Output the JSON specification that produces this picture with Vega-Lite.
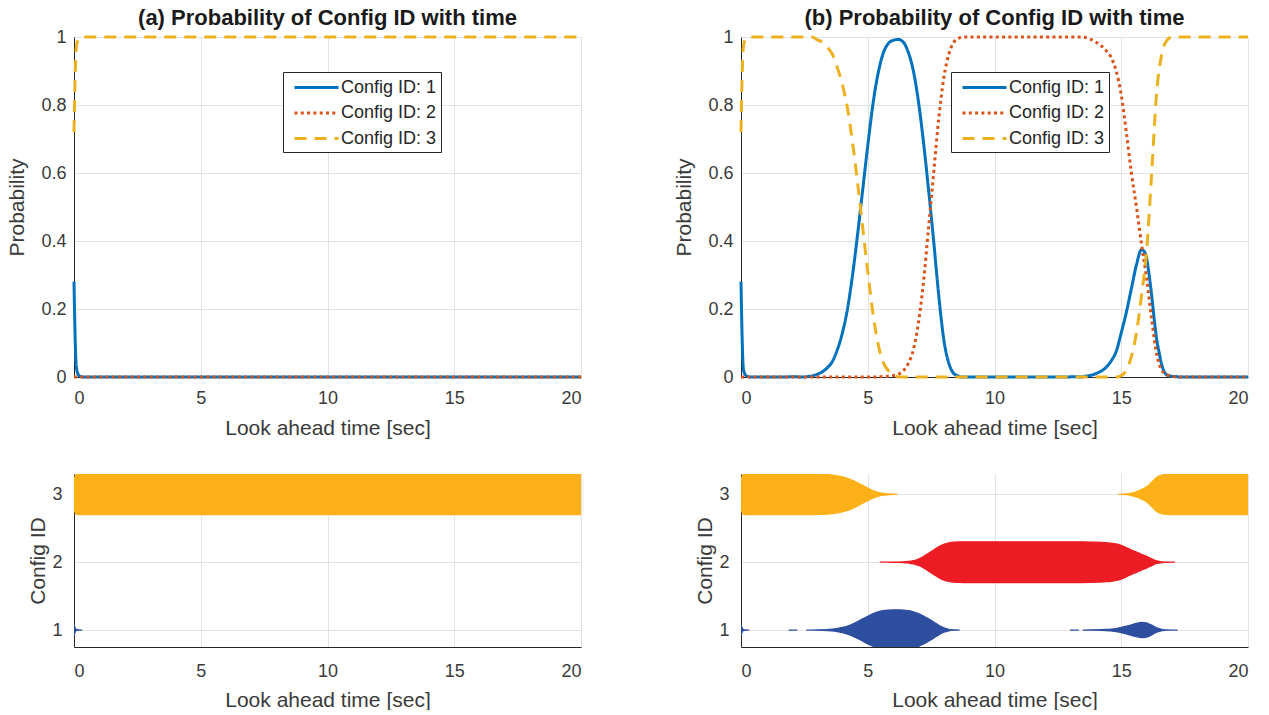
{
  "$schema": "https://vega.github.io/schema/vega-lite/v6.json",
  "background": "white",
  "padding": {"left": 6, "top": 7, "right": 0, "bottom": 0},
  "config": {
    "view": {"stroke": null},
    "font": "Liberation Sans",
    "axis": {
      "domainColor": "#262626", "domainWidth": 1,
      "gridColor": "#e3e3e3", "gridWidth": 1,
      "labelFont": "Liberation Sans", "labelFontSize": 18, "labelColor": "#3a3a3a",
      "titleFont": "Liberation Sans", "titleFontSize": 21, "titleFontWeight": "normal", "titleColor": "#3a3a3a",
      "tickColor": "#262626", "tickSize": 0
    },
    "title": {"font": "Liberation Sans", "fontSize": 22, "fontWeight": "bold", "color": "#1a1a1a", "offset": -2}
  },
  "datasets": {
    "pa": [
      {"t":0,"cfg":1,"p":0.28},{"t":0.05,"cfg":1,"p":0.1},{"t":0.1,"cfg":1,"p":0.025},{"t":0.2,"cfg":1,"p":0.004},{"t":0.3,"cfg":1,"p":0.001},{"t":0.35,"cfg":1,"p":0},{"t":20,"cfg":1,"p":0},
      {"t":0,"cfg":2,"p":0},{"t":20,"cfg":2,"p":0},
      {"t":0,"cfg":3,"p":0.72},{"t":0.05,"cfg":3,"p":0.9},{"t":0.1,"cfg":3,"p":0.975},{"t":0.2,"cfg":3,"p":0.996},{"t":0.3,"cfg":3,"p":1},{"t":20,"cfg":3,"p":1}
    ],
    "pb": [
      {"t":0,"cfg":1,"p":0.28},{"t":0.05,"cfg":1,"p":0.1},{"t":0.1,"cfg":1,"p":0.02},{"t":0.2,"cfg":1,"p":0.004},{"t":0.3,"cfg":1,"p":0.001},{"t":0.35,"cfg":1,"p":0},
      {"t":1.85,"cfg":1,"p":0},{"t":1.9,"cfg":1,"p":0.001},{"t":2.2,"cfg":1,"p":0.001},{"t":2.25,"cfg":1,"p":0},
      {"t":2.55,"cfg":1,"p":0},{"t":2.6,"cfg":1,"p":0.001},{"t":2.8,"cfg":1,"p":0.003},{"t":3.0,"cfg":1,"p":0.008},{"t":3.2,"cfg":1,"p":0.015},{"t":3.4,"cfg":1,"p":0.027},{"t":3.6,"cfg":1,"p":0.045},{"t":3.8,"cfg":1,"p":0.08},{"t":4.0,"cfg":1,"p":0.13},{"t":4.2,"cfg":1,"p":0.2},{"t":4.4,"cfg":1,"p":0.3},{"t":4.6,"cfg":1,"p":0.42},{"t":4.8,"cfg":1,"p":0.55},{"t":5.0,"cfg":1,"p":0.68},{"t":5.2,"cfg":1,"p":0.8},{"t":5.4,"cfg":1,"p":0.89},{"t":5.6,"cfg":1,"p":0.95},{"t":5.8,"cfg":1,"p":0.98},{"t":6.0,"cfg":1,"p":0.99},{"t":6.2,"cfg":1,"p":0.993},{"t":6.4,"cfg":1,"p":0.985},{"t":6.6,"cfg":1,"p":0.955},{"t":6.8,"cfg":1,"p":0.9},{"t":7.0,"cfg":1,"p":0.81},{"t":7.2,"cfg":1,"p":0.69},{"t":7.4,"cfg":1,"p":0.55},{"t":7.6,"cfg":1,"p":0.4},{"t":7.8,"cfg":1,"p":0.24},{"t":8.0,"cfg":1,"p":0.11},{"t":8.2,"cfg":1,"p":0.04},{"t":8.4,"cfg":1,"p":0.01},{"t":8.6,"cfg":1,"p":0.002},{"t":8.65,"cfg":1,"p":0},
      {"t":12.95,"cfg":1,"p":0},{"t":13.0,"cfg":1,"p":0.001},{"t":13.3,"cfg":1,"p":0.001},{"t":13.35,"cfg":1,"p":0},{"t":13.45,"cfg":1,"p":0},{"t":13.5,"cfg":1,"p":0.001},{"t":13.8,"cfg":1,"p":0.005},{"t":14.0,"cfg":1,"p":0.01},{"t":14.2,"cfg":1,"p":0.017},{"t":14.4,"cfg":1,"p":0.028},{"t":14.6,"cfg":1,"p":0.047},{"t":14.8,"cfg":1,"p":0.075},{"t":15.0,"cfg":1,"p":0.13},{"t":15.2,"cfg":1,"p":0.19},{"t":15.4,"cfg":1,"p":0.26},{"t":15.6,"cfg":1,"p":0.33},{"t":15.8,"cfg":1,"p":0.375},{"t":15.9,"cfg":1,"p":0.37},{"t":16.0,"cfg":1,"p":0.35},{"t":16.1,"cfg":1,"p":0.3},{"t":16.2,"cfg":1,"p":0.24},{"t":16.3,"cfg":1,"p":0.17},{"t":16.4,"cfg":1,"p":0.11},{"t":16.5,"cfg":1,"p":0.07},{"t":16.6,"cfg":1,"p":0.035},{"t":16.7,"cfg":1,"p":0.015},{"t":16.8,"cfg":1,"p":0.006},{"t":17.0,"cfg":1,"p":0.002},{"t":17.2,"cfg":1,"p":0.001},{"t":17.25,"cfg":1,"p":0},{"t":20,"cfg":1,"p":0},
      {"t":0,"cfg":2,"p":0},{"t":5.45,"cfg":2,"p":0},{"t":5.5,"cfg":2,"p":0.001},{"t":5.8,"cfg":2,"p":0.002},{"t":6.0,"cfg":2,"p":0.004},{"t":6.2,"cfg":2,"p":0.008},{"t":6.4,"cfg":2,"p":0.018},{"t":6.6,"cfg":2,"p":0.04},{"t":6.8,"cfg":2,"p":0.08},{"t":7.0,"cfg":2,"p":0.16},{"t":7.2,"cfg":2,"p":0.28},{"t":7.4,"cfg":2,"p":0.44},{"t":7.6,"cfg":2,"p":0.6},{"t":7.8,"cfg":2,"p":0.76},{"t":8.0,"cfg":2,"p":0.88},{"t":8.2,"cfg":2,"p":0.95},{"t":8.4,"cfg":2,"p":0.985},{"t":8.6,"cfg":2,"p":0.997},{"t":8.8,"cfg":2,"p":1},{"t":13.4,"cfg":2,"p":1},{"t":13.8,"cfg":2,"p":0.993},{"t":14.0,"cfg":2,"p":0.985},{"t":14.2,"cfg":2,"p":0.975},{"t":14.4,"cfg":2,"p":0.96},{"t":14.6,"cfg":2,"p":0.94},{"t":14.8,"cfg":2,"p":0.9},{"t":15.0,"cfg":2,"p":0.83},{"t":15.2,"cfg":2,"p":0.72},{"t":15.4,"cfg":2,"p":0.6},{"t":15.6,"cfg":2,"p":0.5},{"t":15.8,"cfg":2,"p":0.39},{"t":16.0,"cfg":2,"p":0.29},{"t":16.2,"cfg":2,"p":0.17},{"t":16.4,"cfg":2,"p":0.065},{"t":16.6,"cfg":2,"p":0.02},{"t":16.8,"cfg":2,"p":0.007},{"t":17.0,"cfg":2,"p":0.002},{"t":17.1,"cfg":2,"p":0.001},{"t":17.15,"cfg":2,"p":0},{"t":20,"cfg":2,"p":0},
      {"t":0,"cfg":3,"p":0.72},{"t":0.05,"cfg":3,"p":0.9},{"t":0.1,"cfg":3,"p":0.975},{"t":0.2,"cfg":3,"p":0.996},{"t":0.3,"cfg":3,"p":1},{"t":2.8,"cfg":3,"p":1},{"t":3.0,"cfg":3,"p":0.992},{"t":3.2,"cfg":3,"p":0.985},{"t":3.4,"cfg":3,"p":0.97},{"t":3.6,"cfg":3,"p":0.95},{"t":3.8,"cfg":3,"p":0.91},{"t":4.0,"cfg":3,"p":0.86},{"t":4.2,"cfg":3,"p":0.79},{"t":4.4,"cfg":3,"p":0.69},{"t":4.6,"cfg":3,"p":0.57},{"t":4.8,"cfg":3,"p":0.44},{"t":5.0,"cfg":3,"p":0.31},{"t":5.2,"cfg":3,"p":0.19},{"t":5.4,"cfg":3,"p":0.1},{"t":5.6,"cfg":3,"p":0.045},{"t":5.8,"cfg":3,"p":0.02},{"t":6.0,"cfg":3,"p":0.008},{"t":6.15,"cfg":3,"p":0.002},{"t":6.2,"cfg":3,"p":0},
      {"t":14.85,"cfg":3,"p":0},{"t":14.9,"cfg":3,"p":0.001},{"t":15.0,"cfg":3,"p":0.004},{"t":15.2,"cfg":3,"p":0.02},{"t":15.4,"cfg":3,"p":0.06},{"t":15.6,"cfg":3,"p":0.13},{"t":15.8,"cfg":3,"p":0.24},{"t":16.0,"cfg":3,"p":0.37},{"t":16.2,"cfg":3,"p":0.6},{"t":16.4,"cfg":3,"p":0.84},{"t":16.6,"cfg":3,"p":0.95},{"t":16.8,"cfg":3,"p":0.99},{"t":17.0,"cfg":3,"p":1},{"t":20,"cfg":3,"p":1}
    ]
  },
  "columns": 2,
  "align": "each",
  "spacing": {"row": 36, "column": 86},
  "resolve": {
    "scale": {"color": "independent", "strokeDash": "independent", "stroke": "independent", "x": "independent", "y": "independent"},
    "legend": {"color": "independent", "strokeDash": "independent"}
  },
  "concat": [
    {
      "data": {"name": "pa"},
      "width": 507, "height": 340,
      "title": "(a) Probability of Config ID with time",
      "mark": {"type": "line", "strokeWidth": 3, "interpolate": "monotone"},
      "encoding": {
        "x": {"field": "t", "type": "quantitative", "scale": {"domain": [0, 20], "nice": false},
              "axis": {"title": "Look ahead time [sec]", "values": [0, 5, 10, 15, 20], "labelPadding": 12, "titlePadding": 10}},
        "y": {"field": "p", "type": "quantitative", "scale": {"domain": [0, 1], "nice": false},
              "axis": {"title": "Probability", "values": [0, 0.2, 0.4, 0.6, 0.8, 1], "format": "~g", "labelPadding": 8, "titlePadding": 13}},
        "color": {"field": "cfg", "type": "nominal", "scale": {"domain": [1, 2, 3], "range": ["#0072BD", "#D95319", "#EDB120"]},
                  "legend": {"title": null, "orient": "none", "legendX": 209, "legendY": 35, "symbolType": "M-0.4,0H4", "symbolSize": 400, "symbolStrokeWidth": 3,
                             "labelExpr": "'Config ID: ' + datum.label", "labelFont": "Liberation Sans", "labelFontSize": 18, "labelColor": "#262626", "labelOffset": 31,
                             "strokeColor": "#262626", "fillColor": "white", "padding": 4, "rowPadding": 4.5}},
        "strokeDash": {"field": "cfg", "type": "nominal", "scale": {"domain": [1, 2, 3], "range": [[1, 0], [3, 3.3], [12, 8]]}}
      }
    },
    {
      "data": {"name": "pb"},
      "width": 507, "height": 340,
      "title": "(b) Probability of Config ID with time",
      "mark": {"type": "line", "strokeWidth": 3, "interpolate": "monotone"},
      "encoding": {
        "x": {"field": "t", "type": "quantitative", "scale": {"domain": [0, 20], "nice": false},
              "axis": {"title": "Look ahead time [sec]", "values": [0, 5, 10, 15, 20], "labelPadding": 12, "titlePadding": 10}},
        "y": {"field": "p", "type": "quantitative", "scale": {"domain": [0, 1], "nice": false},
              "axis": {"title": "Probability", "values": [0, 0.2, 0.4, 0.6, 0.8, 1], "format": "~g", "labelPadding": 8, "titlePadding": 13}},
        "color": {"field": "cfg", "type": "nominal", "scale": {"domain": [1, 2, 3], "range": ["#0072BD", "#D95319", "#EDB120"]},
                  "legend": {"title": null, "orient": "none", "legendX": 210, "legendY": 35, "symbolType": "M-0.4,0H4", "symbolSize": 400, "symbolStrokeWidth": 3,
                             "labelExpr": "'Config ID: ' + datum.label", "labelFont": "Liberation Sans", "labelFontSize": 18, "labelColor": "#262626", "labelOffset": 31,
                             "strokeColor": "#262626", "fillColor": "white", "padding": 4, "rowPadding": 4.5}},
        "strokeDash": {"field": "cfg", "type": "nominal", "scale": {"domain": [1, 2, 3], "range": [[1, 0], [3, 3.3], [12, 8]]}}
      }
    },
    {
      "data": {"name": "pa"},
      "width": 507, "height": 173,
      "transform": [
        {"calculate": "datum.p > 0 ? datum.cfg - 0.3 * datum.p : null", "as": "lo"},
        {"calculate": "datum.p > 0 ? datum.cfg + 0.3 * datum.p : null", "as": "hi"}
      ],
      "mark": {"type": "area", "interpolate": "monotone", "clip": true, "strokeWidth": 1.2, "invalid": "break-paths-show-domains"},
      "encoding": {
        "x": {"field": "t", "type": "quantitative", "scale": {"domain": [0, 20], "nice": false},
              "axis": {"title": "Look ahead time [sec]", "values": [0, 5, 10, 15, 20], "labelPadding": 15, "titlePadding": 9}},
        "y": {"field": "lo", "type": "quantitative", "stack": null, "scale": {"domain": [0.75, 3.3], "nice": false, "zero": false},
              "axis": {"title": "Config ID", "values": [1, 2, 3], "labelPadding": 12, "titlePadding": 3}},
        "y2": {"field": "hi"},
        "color": {"field": "cfg", "type": "nominal", "scale": {"domain": [1, 2, 3], "range": ["#2E4FA0", "#ED1C24", "#FBB117"]}, "legend": null},
        "stroke": {"field": "cfg", "type": "nominal", "scale": {"domain": [1, 2, 3], "range": ["#2E4FA0", "#ED1C24", "#FBB117"]}, "legend": null}
      }
    },
    {
      "data": {"name": "pb"},
      "width": 507, "height": 173,
      "transform": [
        {"calculate": "datum.p > 0 ? datum.cfg - 0.3 * datum.p : null", "as": "lo"},
        {"calculate": "datum.p > 0 ? datum.cfg + 0.3 * datum.p : null", "as": "hi"}
      ],
      "mark": {"type": "area", "interpolate": "monotone", "clip": true, "strokeWidth": 1.2, "invalid": "break-paths-show-domains"},
      "encoding": {
        "x": {"field": "t", "type": "quantitative", "scale": {"domain": [0, 20], "nice": false},
              "axis": {"title": "Look ahead time [sec]", "values": [0, 5, 10, 15, 20], "labelPadding": 15, "titlePadding": 9}},
        "y": {"field": "lo", "type": "quantitative", "stack": null, "scale": {"domain": [0.75, 3.3], "nice": false, "zero": false},
              "axis": {"title": "Config ID", "values": [1, 2, 3], "labelPadding": 12, "titlePadding": 3}},
        "y2": {"field": "hi"},
        "color": {"field": "cfg", "type": "nominal", "scale": {"domain": [1, 2, 3], "range": ["#2E4FA0", "#ED1C24", "#FBB117"]}, "legend": null},
        "stroke": {"field": "cfg", "type": "nominal", "scale": {"domain": [1, 2, 3], "range": ["#2E4FA0", "#ED1C24", "#FBB117"]}, "legend": null}
      }
    }
  ]
}
